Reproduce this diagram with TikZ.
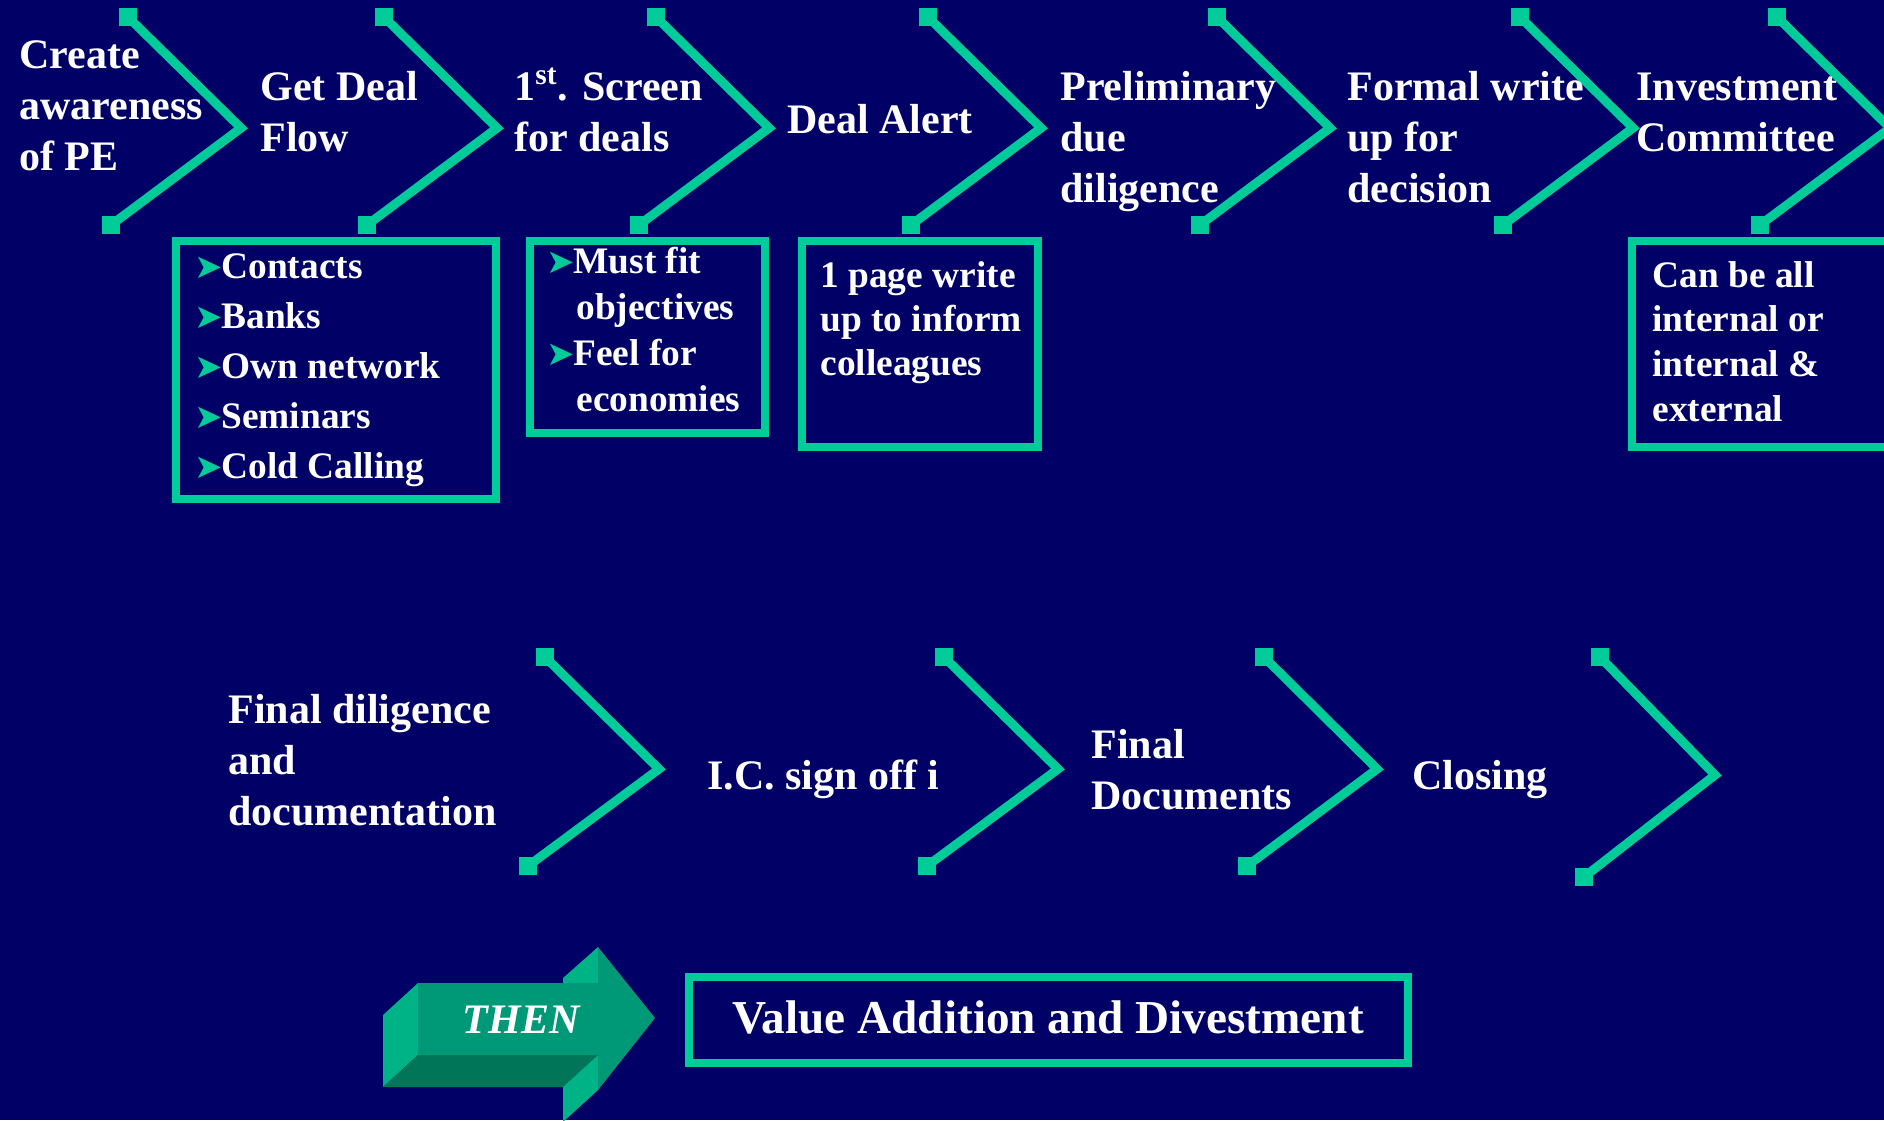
\documentclass[tikz,border=0pt]{standalone}
\usepackage{fontspec}
\setmainfont{Liberation Serif}
\newfontfamily\dejavu{DejaVu Sans}
\usetikzlibrary{plotmarks}

\definecolor{penavy}{RGB}{0,0,102}
\definecolor{peteal}{RGB}{0,204,153}
\definecolor{arrowfront}{RGB}{0,153,119}
\definecolor{arrowlight}{RGB}{0,179,134}
\definecolor{arrowdark}{RGB}{0,117,88}

\newcommand{\pebullet}{\makebox[11.5pt][l]{\hspace*{-2pt}\dejavu\fontsize{17}{17}\selectfont\color{peteal}➤}}

\tikzset{
	chev/.style={draw=peteal,line width=4.5pt,line join=miter,
		mark=square*,mark indices={1,3},mark size=4.25pt,
		mark options={fill=peteal,draw=peteal,line width=0pt}},
	notebox/.style={draw=peteal,line width=4pt},
	steptext/.style={text=white,inner sep=0pt,align=left,anchor=base west,
		font=\bfseries\fontsize{21}{25.5}\selectfont},
	notetext/.style={text=white,inner sep=0pt,align=left,anchor=base west,
		font=\bfseries\fontsize{18.7}{22}\selectfont}
}

\begin{document}
\begin{tikzpicture}[x=0.5pt,y=-0.5pt]
		\fill[penavy] (0,0) rectangle (1884,1120);
		\useasboundingbox (0,0) rectangle (1884,1120);
		\clip (0,0) rectangle (1884,1120);

		% top row of steps
		\draw[chev] plot coordinates {(128,17) (241,128) (111,225)};
		\draw[chev] plot coordinates {(384,17) (497,128) (367,225)};
		\draw[chev] plot coordinates {(656,17) (769,128) (639,225)};
		\draw[chev] plot coordinates {(928,17) (1041,128) (911,225)};
		\draw[chev] plot coordinates {(1217,17) (1330,128) (1200,225)};
		\draw[chev] plot coordinates {(1520,17) (1633,128) (1503,225)};
		\draw[chev] plot coordinates {(1777,17) (1890,128) (1760,225)};

		% (base anchor = last line)
		\node[steptext] (aware) at (19,170) {Create\\awareness\\of PE};
		\node[steptext] (flow) at (260,151) {Get Deal\\Flow};
		\node[steptext] (screen) at (514,151) {1\textsuperscript{st}. Screen\\for deals};
		\node[steptext] (alert) at (787,133) {Deal Alert};
		\node[steptext] (prelim) at (1060,202) {Preliminary\\due\\diligence};
		\node[steptext] (formal) at (1347,202) {Formal write\\up for\\decision};
		\node[steptext] (invest) at (1636,151) {Investment\\Committee};

		% notes under the steps
		\draw[notebox] (176,241) rectangle (496,499);
		\draw[notebox] (530,241) rectangle (765,433);
		\draw[notebox] (802,241) rectangle (1038,447);
		\draw[notebox] (1632,241) rectangle (1900,447);

		\node[notetext,font=\bfseries\fontsize{18.7}{25}\selectfont] (sources) at (198,478)
			{\pebullet Contacts\\\pebullet Banks\\\pebullet Own network\\\pebullet Seminars\\\pebullet Cold Calling};
		\node[notetext,font=\bfseries\fontsize{18.7}{23}\selectfont] (fit) at (550,411)
			{\pebullet Must fit\\\hspace*{13pt}objectives\\\pebullet Feel for\\\hspace*{13pt}economies};
		\node[notetext] (onepage) at (820,375) {1 page write\\up to inform\\colleagues};
		\node[notetext,font=\bfseries\fontsize{18.7}{22.3}\selectfont] (members) at (1652,421)
			{Can be all\\internal or\\internal \&\\external};

		% second row of steps
		\draw[chev] plot coordinates {(545,657) (659,769) (528,866)};
		\draw[chev] plot coordinates {(944,657) (1058,769) (927,866)};
		\draw[chev] plot coordinates {(1264,657) (1377,769) (1247,866)};
		\draw[chev] plot coordinates {(1600,657) (1715,775) (1584,877)};

		\node[steptext] (finaldd) at (228,825) {Final diligence\\and\\documentation};
		\node[steptext] (signoff) at (707,789) {I.C. sign off i};
		\node[steptext] (finaldocs) at (1091,809) {Final\\Documents};
		\node[steptext] (closing) at (1412,789) {Closing};

		% THEN arrow
		\fill[arrowlight] (418,983) -- (418,1055) -- (383,1087) -- (383,1015) -- cycle;
		\fill[arrowdark] (418,1055) -- (598,1055) -- (563,1087) -- (383,1087) -- cycle;
		\fill[arrowlight] (563,978) -- (598,947) -- (598,983) -- (563,983) -- cycle;
		\fill[arrowlight] (598,1055) -- (598,1090) -- (563,1122) -- (563,1087) -- cycle;
		\fill[arrowfront] (418,983) -- (598,983) -- (598,947) -- (655,1018)
			-- (598,1090) -- (598,1055) -- (418,1055) -- cycle;
		\node[text=white,inner sep=0pt,anchor=base,font=\bfseries\itshape\fontsize{21}{25}\selectfont]
			(then) at (521,1033) {THEN};

		\draw[notebox] (689,977) rectangle (1408,1063);
		\node[text=white,inner sep=0pt,anchor=base,font=\bfseries\fontsize{23.6}{28}\selectfont]
			(value) at (1048,1033) {Value Addition and Divestment};
	\end{tikzpicture}
\end{document}
